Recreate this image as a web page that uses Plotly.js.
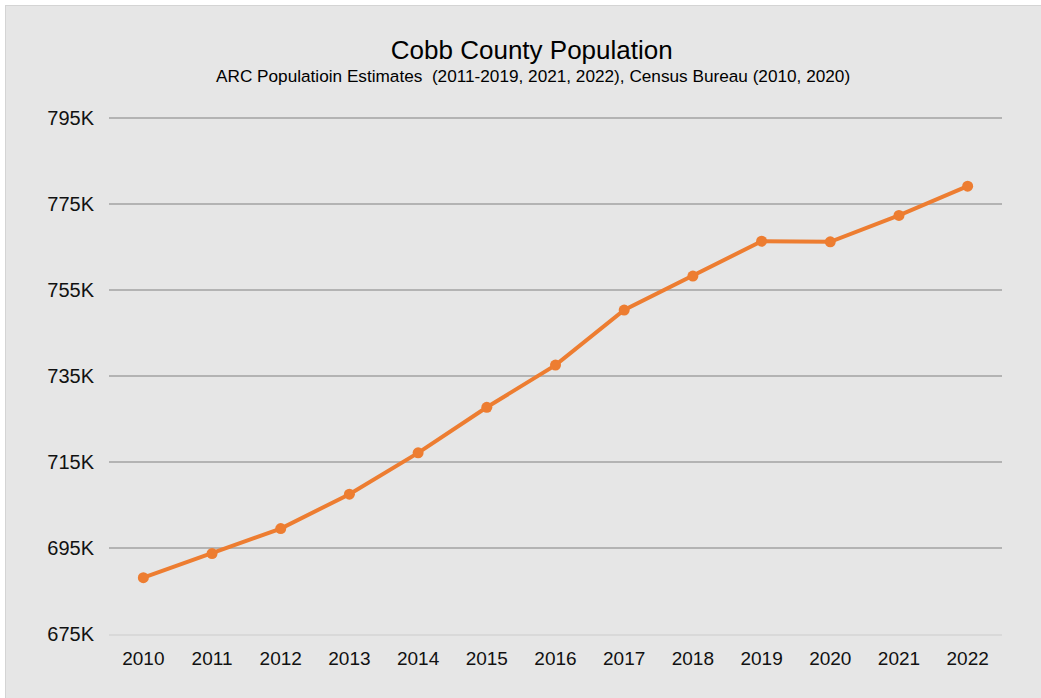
<!DOCTYPE html>
<html>
<head>
<meta charset="utf-8">
<script src="https://cdn.plot.ly/plotly-3.0.1.min.js"></script>
<style>
  html, body { margin: 0; padding: 0; background: #ffffff; }
  #wrap { position: absolute; left: 5px; top: 5px; border-left: 1px solid #d4d4d4; border-top: 1px solid #d4d4d4; }
  #chart { width: 1035px; height: 692px; }
</style>
</head>
<body>
<div id="wrap"><div id="chart"></div></div>
<script>
const years = ['2010','2011','2012','2013','2014','2015','2016','2017','2018','2019','2020','2021','2022'];
const population = [688078, 693700, 699500, 707500, 717100, 727700, 737500, 750300, 758200, 766300, 766149, 772300, 779100];
const yTickVals = [675000, 695000, 715000, 735000, 755000, 775000, 795000];
const yTickText = ['675K', '695K', '715K', '735K', '755K', '775K', '795K'];
const chartTitle = 'Cobb County Population';
const chartSubtitle = 'ARC Populatioin Estimates\u00a0 (2011-2019, 2021, 2022), Census Bureau (2010, 2020)';

const font = 'Liberation Sans, Arial, sans-serif';

Plotly.newPlot('chart', [{
  x: years,
  y: population,
  type: 'scatter',
  mode: 'lines+markers',
  line: { color: '#ED7D31', width: 4 },
  marker: { color: '#ED7D31', size: 11 },
  hoverinfo: 'x+y'
}], {
  width: 1035,
  height: 692,
  paper_bgcolor: '#e6e6e6',
  plot_bgcolor: '#e6e6e6',
  margin: { l: 103, r: 39, t: 110, b: 64 },
  showlegend: false,
  font: { family: font, color: '#111111' },
  title: {
    text: chartTitle,
    font: { family: font, size: 26, color: '#000000' },
    x: 0.508, xanchor: 'center',
    y: 0.937, yanchor: 'middle', yref: 'container'
  },
  annotations: [{
    text: chartSubtitle,
    xref: 'paper', yref: 'paper',
    x: 0.475, y: 1.077,
    xanchor: 'center', yanchor: 'middle',
    showarrow: false,
    font: { family: font, size: 17.2, color: '#000000' }
  }],
  xaxis: {
    type: 'category',
    range: [-0.5, 12.5],
    showgrid: false,
    zeroline: false,
    showline: true,
    linecolor: '#d9d9d9',
    linewidth: 2,
    ticks: '',
    ticklabelstandoff: 6,
    tickfont: { family: font, size: 19, color: '#111111' }
  },
  yaxis: {
    range: [675000, 795400],
    tickvals: yTickVals,
    ticktext: yTickText,
    showgrid: true,
    gridcolor: '#b3b3b3',
    gridwidth: 1.6,
    zeroline: false,
    showline: false,
    ticks: '',
    ticklabelstandoff: 14,
    tickfont: { family: font, size: 20, color: '#111111' }
  }
}, { displayModeBar: false, staticPlot: true });
</script>
</body>
</html>
